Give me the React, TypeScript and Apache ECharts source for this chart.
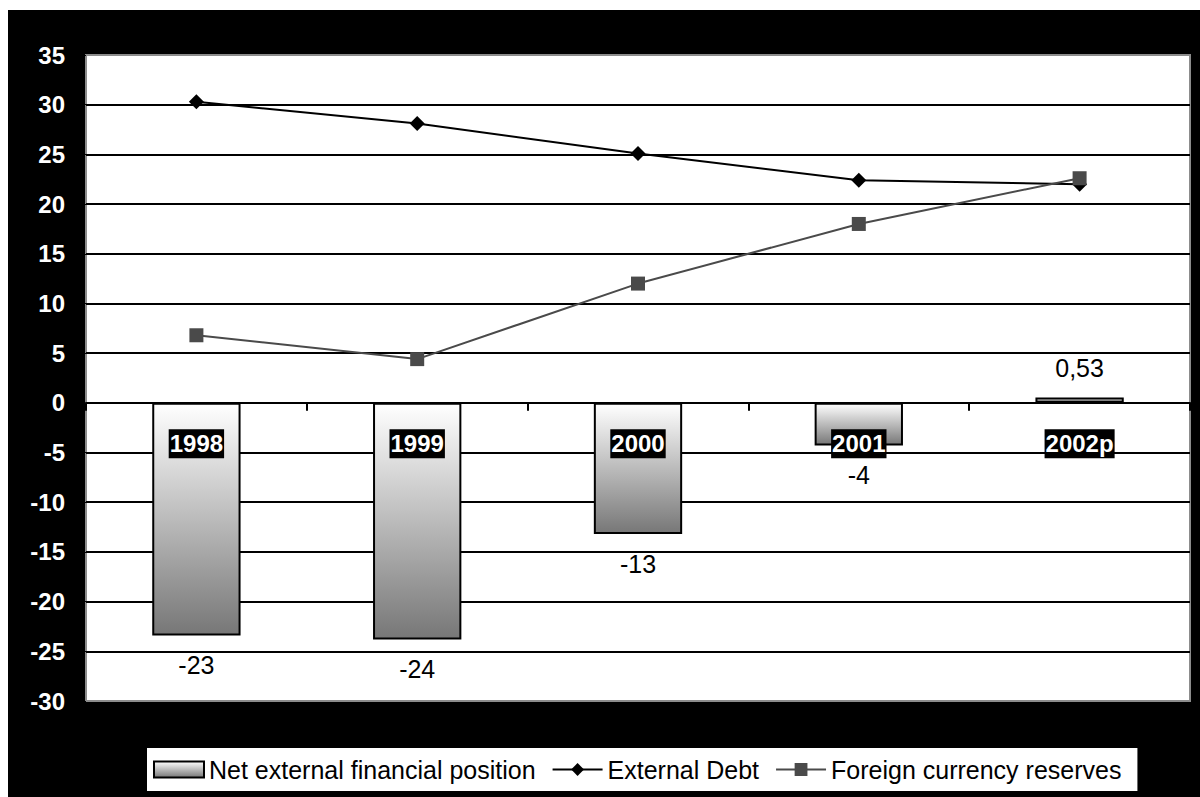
import React, { useEffect, useRef } from "react";
import * as echarts from "echarts";

const categories = ["1998", "1999", "2000", "2001", "2002p"];
const netPosition = [-23.4, -23.8, -13.2, -4.3, 0.53];
const netLabels = ["-23", "-24", "-13", "-4", "0,53"];
const externalDebt = [30.3, 28.1, 25.1, 22.4, 22.0];
const reserves = [6.8, 4.4, 12.0, 18.0, 22.6];
const yMin = -30;
const yMax = 35;
const yStep = 5;

const FONT = "'Liberation Sans', Arial, sans-serif";

export default function App() {
  const ref = useRef<HTMLDivElement>(null);
  useEffect(() => {
    if (!ref.current) return;
    const chart = echarts.init(ref.current, null, { renderer: "svg" });
    const barGradient = new echarts.graphic.LinearGradient(0, 0, 0, 1, [
      { offset: 0, color: "#ffffff" },
      { offset: 1, color: "#777777" },
    ]);
    chart.setOption({
      animation: false,
      backgroundColor: "#000000",
      textStyle: { fontFamily: FONT },
      grid: {
        left: 78,
        top: 45,
        width: 1104,
        height: 646,
        show: true,
        backgroundColor: "#ffffff",
        borderColor: "#8c8c8c",
        borderWidth: 2,
      },
      legend: {
        left: 139,
        top: 738,
        padding: [9, 16, 9, 6],
        backgroundColor: "#ffffff",
        itemWidth: 50,
        itemHeight: 16,
        itemGap: 16,
        textStyle: { fontSize: 25, color: "#000000", fontFamily: FONT },
        data: [
          { name: "Net external financial position", icon: "rect" },
          { name: "External Debt" },
          { name: "Foreign currency reserves" },
        ],
      },
      xAxis: {
        type: "category",
        data: categories,
        z: 10,
        axisLine: { onZero: true, lineStyle: { color: "#000000", width: 2 } },
        axisTick: { show: true, length: 8, lineStyle: { color: "#000000", width: 2 } },
        axisLabel: { show: false },
        splitLine: { show: false },
      },
      yAxis: {
        type: "value",
        min: yMin,
        max: yMax,
        interval: yStep,
        axisLine: { show: false },
        axisTick: { show: true, length: 8, lineStyle: { color: "#000000" } },
        axisLabel: {
          color: "#ffffff",
          fontWeight: "bold",
          fontSize: 24,
          fontFamily: FONT,
          margin: 21,
        },
        splitLine: {
          show: true,
          showMinLine: false,
          showMaxLine: false,
          lineStyle: { color: "#000000", width: 2 },
        },
      },
      series: [
        {
          name: "Net external financial position",
          type: "bar",
          barWidth: "40%",
          itemStyle: { color: barGradient, borderColor: "#000000", borderWidth: 2 },
          data: netPosition.map((v) => ({
            value: v,
            label: { position: v < 0 ? "bottom" : "top" },
          })),
          label: {
            show: true,
            distance: 17,
            fontSize: 25,
            color: "#000000",
            fontFamily: FONT,
            formatter: (p: any) => netLabels[p.dataIndex],
          },
        },
        {
          name: "External Debt",
          type: "line",
          data: externalDebt,
          symbol: "diamond",
          symbolSize: 15,
          lineStyle: { color: "#000000", width: 2 },
          itemStyle: { color: "#000000" },
          z: 3,
        },
        {
          name: "Foreign currency reserves",
          type: "line",
          data: reserves,
          symbol: "rect",
          symbolSize: 14,
          lineStyle: { color: "#4a4a4a", width: 2 },
          itemStyle: { color: "#4a4a4a" },
          z: 4,
        },
        {
          name: "category labels",
          type: "scatter",
          silent: true,
          z: 12,
          symbolSize: 0,
          itemStyle: { color: "#000000", opacity: 1 },
          emphasis: { disabled: true },
          data: categories.map((c) => [c, 0]),
          label: {
            show: true,
            position: "inside",
            offset: [0, 41],
            color: "#ffffff",
            opacity: 1,
            fontWeight: "bold",
            fontSize: 24,
            fontFamily: FONT,
            backgroundColor: "#000000",
            padding: [3, 1, 2, 1],
            formatter: (p: any) => categories[p.dataIndex],
          },
        },
      ],
    });
    return () => chart.dispose();
  }, []);
  return (
    <div
      ref={ref}
      style={{
        position: "fixed",
        left: 8,
        top: 10,
        width: 1192,
        height: 787,
        background: "#000000",
      }}
    />
  );
}
